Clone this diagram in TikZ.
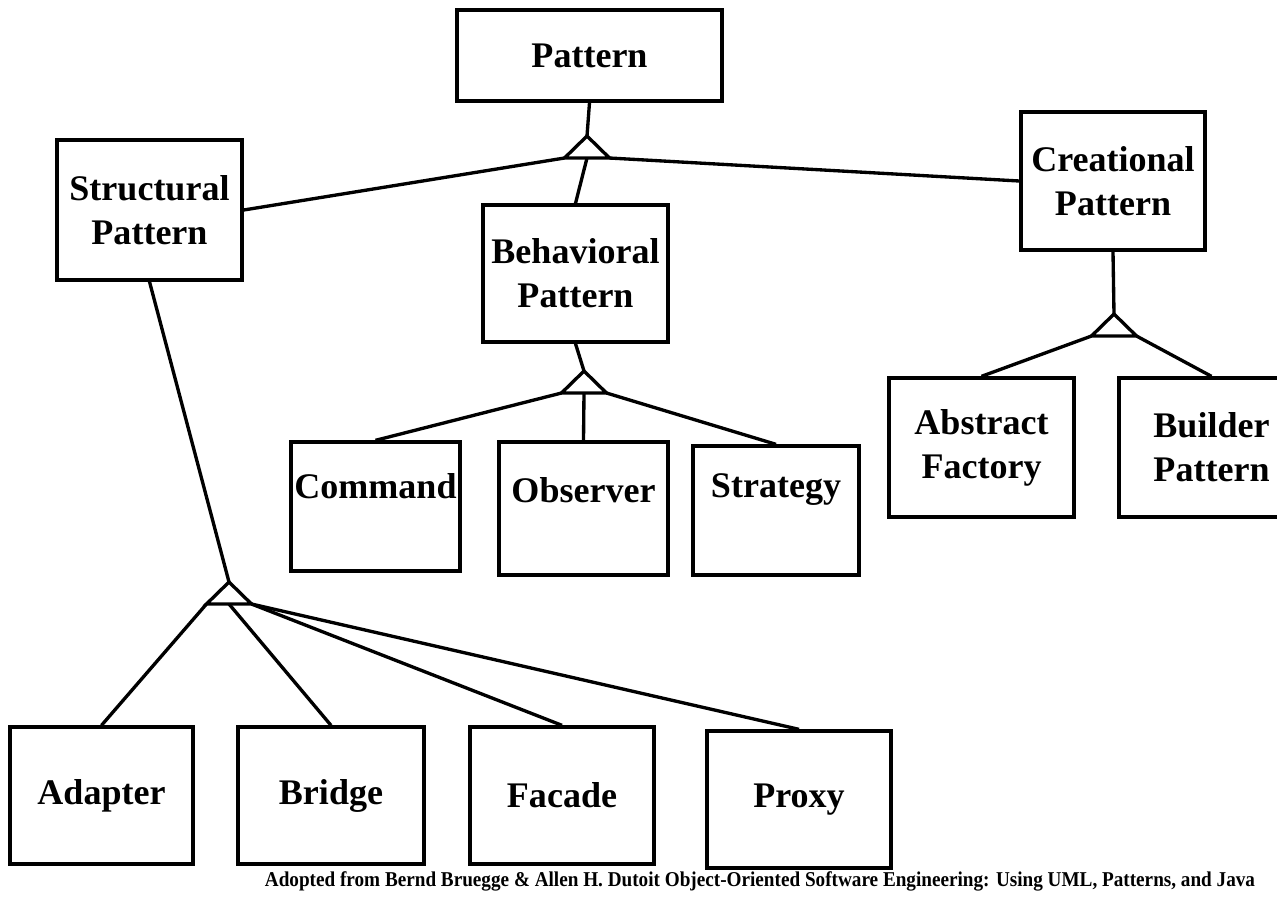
\documentclass[tikz,border=0pt]{standalone}
\usepackage{fontspec}
\setmainfont{Liberation Serif}
\newfontfamily\captfont[FakeStretch=0.91]{Liberation Serif}
\usepackage{tikz}
\usetikzlibrary{positioning,calc}

% generalization triangle: name, apex
\newcommand{\gentri}[2]{%
  \coordinate (#1) at (#2);
  \coordinate (#1-l) at ($(#1)+(-0.45,-0.44)$);
  \coordinate (#1-r) at ($(#1)+(0.45,-0.44)$);
  \coordinate (#1-b) at ($(#1)+(0,-0.44)$);
  \draw[link] (#1) -- (#1-l) -- (#1-r) -- cycle;}

\begin{document}
\begin{tikzpicture}[
    link/.style={line width=1.9pt, line join=miter},
    cls/.style={draw, line width=1.9pt, align=center, inner sep=0pt,
                font=\fontsize{20.5}{25}\selectfont\bfseries},
    txt/.style={align=center, inner sep=0pt,
                font=\fontsize{20.5}{25}\selectfont\bfseries}]
    \clip (0,0) rectangle (25.54,-17.94);
    % classes
    \node[cls, minimum width=5.3cm, minimum height=1.82cm] (pat) at (11.79,-1.11) {Pattern};
    \node[cls, minimum width=3.7cm, minimum height=2.8cm] (stru) at (2.99,-4.2) {Structural\\Pattern};
    \node[cls, minimum width=3.7cm, minimum height=2.74cm] (beh) at (11.51,-5.47) {Behavioral\\Pattern};
    \node[cls, minimum width=3.68cm, minimum height=2.76cm] (cre) at (22.26,-3.62) {Creational\\Pattern};
    % behavioral
    \node[cls, minimum width=3.38cm, minimum height=2.58cm] (cmd) at (7.51,-10.13) {};
    \node[txt] (cmdtxt) at ([yshift=0.4cm]cmd.center) {Command};
    \node[cls, minimum width=3.38cm, minimum height=2.66cm] (obs) at (11.67,-10.17) {};
    \node[txt] (obstxt) at ([yshift=0.36cm]obs.center) {Observer};
    \node[cls, minimum width=3.32cm, minimum height=2.58cm] (strat) at (15.52,-10.21) {};
    \node[txt] (strattxt) at ([yshift=0.41cm]strat.center) {Strategy};
    % creational
    \node[cls, minimum width=3.7cm, minimum height=2.78cm] (absf) at (19.63,-8.95) {Abstract\\Factory};
    \node[cls, minimum width=3.7cm, minimum height=2.78cm] (bld) at (24.23,-8.95) {Builder\\Pattern};
    % structural
    \node[cls, minimum width=3.66cm, minimum height=2.74cm] (adp) at (2.03,-15.91) {Adapter};
    \node[cls, minimum width=3.72cm, minimum height=2.74cm] (brg) at (6.62,-15.91) {Bridge};
    \node[cls, minimum width=3.68cm, minimum height=2.74cm] (fac) at (11.24,-15.91) {Facade};
    \node[cls, minimum width=3.68cm, minimum height=2.74cm] (prx) at (15.98,-15.99) {Proxy};

    \gentri{tpat}{11.74,-2.72}
    \gentri{tbeh}{11.68,-7.42}
    \gentri{tcre}{22.28,-6.28}
    \gentri{tstru}{4.58,-11.64}

    \draw[link] (pat.south) -- (tpat);
    \draw[link] (tpat-l) -- (stru.east);
    \draw[link] (tpat-r) -- (cre.west);
    \draw[link] (tpat-b) -- (beh.north);

    \draw[link] (beh.south) -- (tbeh);
    \draw[link] (tbeh-l) -- (cmd.north);
    \draw[link] (tbeh-b) -- (obs.north);
    \draw[link] (tbeh-r) -- (strat.north);

    \draw[link] (cre.south) -- (tcre);
    \draw[link] (tcre-l) -- (absf.north);
    \draw[link] (tcre-r) -- (bld.north);

    \draw[link] (stru.south) -- (tstru);
    \draw[link] (tstru-l) -- (adp.north);
    \draw[link] (tstru-b) -- (brg.north);
    \draw[link] (tstru-r) -- (fac.north);
    \draw[link] (tstru-r) -- (prx.north);

    \node[inner sep=0pt, font=\captfont\fontsize{12}{14}\selectfont\bfseries] (src) at (15.2,-17.62)
        {Adopted from Bernd Bruegge \& Allen H. Dutoit Object-Oriented Software Engineering: Using UML, Patterns, and Java};
\end{tikzpicture}
\end{document}
